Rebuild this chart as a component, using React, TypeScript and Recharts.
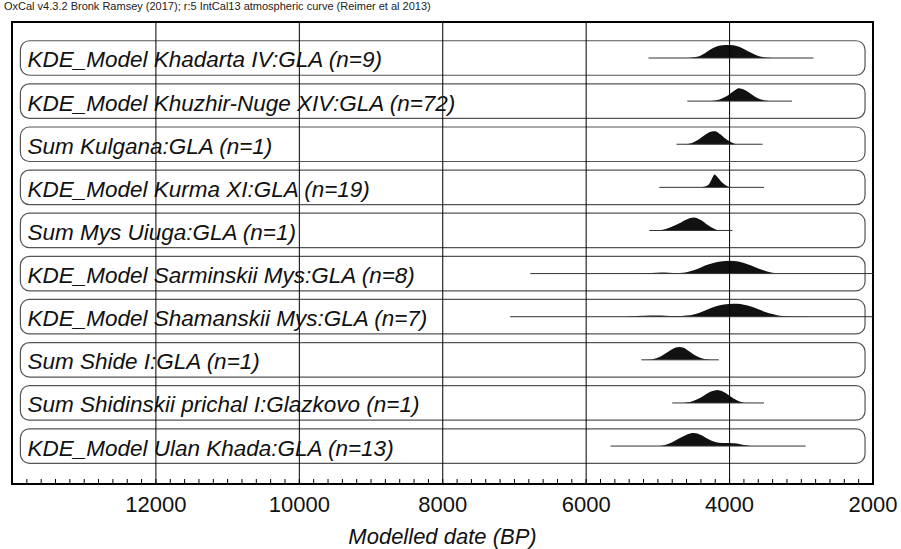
import { ComposedChart, XAxis, YAxis, Area, Line, ReferenceArea, ReferenceLine, Label } from 'recharts';

const FONT = '"Liberation Sans", Arial, Helvetica, sans-serif';

const title = 'OxCal v4.3.2 Bronk Ramsey (2017); r:5 IntCal13 atmospheric curve (Reimer et al 2013)';
const axisTitle = 'Modelled date (BP)';

const rowLabels = [
  'KDE_Model Khadarta IV:GLA (n=9)',
  'KDE_Model Khuzhir-Nuge XIV:GLA (n=72)',
  'Sum Kulgana:GLA (n=1)',
  'KDE_Model Kurma XI:GLA (n=19)',
  'Sum Mys Uiuga:GLA (n=1)',
  'KDE_Model Sarminskii Mys:GLA (n=8)',
  'KDE_Model Shamanskii Mys:GLA (n=7)',
  'Sum Shide I:GLA (n=1)',
  'Sum Shidinskii prichal I:Glazkovo (n=1)',
  'KDE_Model Ulan Khada:GLA (n=13)',
];

// whisker ranges (BP)
const rangeFrom = [5130, 4590, 4740, 4980, 5120, 6780, 7060, 5230, 4800, 5660];
const rangeTo = [2830, 3130, 3540, 3520, 3960, 2000, 1980, 4150, 3520, 2940];

// [date BP, relative probability]
const khadartaIV = [[4600, 0], [4500, 0.05], [4400, 0.2], [4300, 0.55], [4200, 0.85], [4100, 0.98], [4000, 1], [3900, 0.92], [3800, 0.7], [3700, 0.4], [3600, 0.15], [3500, 0.04], [3400, 0]];
const khuzhirNuge = [[4250, 0], [4150, 0.1], [4050, 0.35], [3950, 0.75], [3870, 1], [3800, 0.9], [3700, 0.55], [3600, 0.2], [3500, 0.04], [3450, 0]];
const kulgana = [[4620, 0], [4550, 0.05], [4450, 0.3], [4350, 0.7], [4250, 0.98], [4200, 1], [4150, 0.85], [4050, 0.4], [3950, 0.08], [3900, 0]];
const kurmaXI = [[4420, 0], [4340, 0.07], [4280, 0.3], [4240, 0.75], [4210, 1], [4170, 0.8], [4100, 0.35], [4030, 0.08], [3970, 0]];
const mysUiuga = [[5000, 0], [4900, 0.1], [4800, 0.3], [4700, 0.55], [4600, 0.85], [4500, 1], [4400, 0.8], [4300, 0.4], [4200, 0.1], [4150, 0]];
const sarminskiiMys = [[5300, 0], [5100, 0.05], [4950, 0.09], [4850, 0.07], [4700, 0.05], [4600, 0.1], [4500, 0.25], [4400, 0.48], [4300, 0.7], [4200, 0.86], [4100, 0.96], [4000, 1], [3900, 0.95], [3800, 0.82], [3700, 0.62], [3600, 0.4], [3500, 0.2], [3400, 0.07], [3300, 0]];
const shamanskiiMys = [[5450, 0], [5300, 0.05], [5100, 0.09], [5000, 0.1], [4900, 0.08], [4750, 0.06], [4600, 0.1], [4500, 0.18], [4400, 0.35], [4300, 0.57], [4200, 0.78], [4100, 0.92], [4000, 0.99], [3900, 1], [3800, 0.93], [3700, 0.78], [3600, 0.58], [3500, 0.37], [3400, 0.2], [3300, 0.08], [3200, 0.04], [3000, 0.01], [2900, 0]];
const shideI = [[5150, 0], [5050, 0.08], [4950, 0.3], [4850, 0.65], [4750, 0.95], [4700, 1], [4650, 0.95], [4550, 0.6], [4450, 0.25], [4350, 0.07], [4250, 0]];
const shidinskiiPrichal = [[4650, 0], [4550, 0.07], [4450, 0.28], [4350, 0.6], [4250, 0.9], [4170, 1], [4100, 0.9], [4000, 0.55], [3900, 0.2], [3820, 0.04], [3780, 0]];
const ulanKhada = [[5000, 0], [4900, 0.08], [4800, 0.3], [4700, 0.6], [4600, 0.88], [4500, 1], [4400, 0.85], [4300, 0.55], [4200, 0.32], [4100, 0.24], [4000, 0.24], [3900, 0.2], [3800, 0.08], [3700, 0]];

const densities = [khadartaIV, khuzhirNuge, kulgana, kurmaXI, mysUiuga, sarminskiiMys, shamanskiiMys, shideI, shidinskiiPrichal, ulanKhada];

const majorTicks = [12000, 10000, 8000, 6000, 4000, 2000];
const X_LEFT = 14007;
const X_RIGHT = 2000;
const Y_MIN = -0.88;
const Y_MAX = 9.835;
const PEAK = 0.3;
const BOX_LEFT = 13890;
const BOX_RIGHT = 2111;

const CHART_W = 901;
const CHART_H = 549;
const AXIS_H = 65;
const AXIS_Y = CHART_H - AXIS_H;

const allTicks: number[] = [];
for (let t = 2000; t <= 13800; t += 200) allTicks.push(t);

const rowBase = (i: number) => rowLabels.length - 1 - i;

function DateTick(props: any) {
  const { x, payload } = props;
  const v = payload.value;
  const major = majorTicks.includes(v);
  return (
    <g>
      <line x1={x} x2={x} y1={AXIS_Y} y2={AXIS_Y - 5} stroke="#000" strokeWidth={1} />
      {major && (
        <text x={x} y={AXIS_Y + 28} textAnchor="middle" fontSize={22} fill="#111" fontFamily={FONT}>
          {v}
        </text>
      )}
    </g>
  );
}

export default function App() {
  return (
    <div style={{ position: 'absolute', left: 0, top: 0, width: CHART_W, height: CHART_H, background: '#fff' }}>
      <div style={{ position: 'absolute', left: 4, top: 0, fontSize: 11, fontFamily: FONT, color: '#222', whiteSpace: 'nowrap' }}>
        {title}
      </div>
      <ComposedChart width={CHART_W} height={CHART_H} margin={{ top: 22, right: 28, bottom: 0, left: 12 }}>
        <XAxis
          type="number"
          dataKey="date"
          domain={[X_RIGHT, X_LEFT]}
          reversed
          allowDataOverflow
          ticks={allTicks}
          interval={0}
          tick={<DateTick />}
          tickLine={false}
          tickSize={0}
          tickMargin={0}
          height={AXIS_H}
          axisLine={{ stroke: '#000', strokeWidth: 2 }}
        >
          <Label value={axisTitle} position="insideBottom" offset={5} fontSize={22} fontStyle="italic" fill="#111" fontFamily={FONT} />
        </XAxis>
        <YAxis type="number" domain={[Y_MIN, Y_MAX]} hide allowDataOverflow />

        {rowLabels.map((label, i) => (
          <ReferenceArea
            key={'box' + i}
            x1={BOX_LEFT}
            x2={BOX_RIGHT}
            y1={rowBase(i) - 0.4}
            y2={rowBase(i) + 0.4}
            fill="none"
            fillOpacity={0}
            stroke="#555"
            strokeWidth={1.2}
            radius={9}
            ifOverflow="visible"
          >
            <Label value={label} position="insideLeft" offset={7} dy={1.5} fontSize={22.5} fontStyle="italic" fill="#111" fontFamily={FONT} />
          </ReferenceArea>
        ))}

        {majorTicks.slice(0, 5).map((t) => (
          <ReferenceLine key={'g' + t} x={t} stroke="#000" strokeWidth={1} />
        ))}

        <ReferenceArea x1={X_LEFT} x2={X_RIGHT} y1={Y_MIN} y2={Y_MAX} fill="none" fillOpacity={0} stroke="#000" strokeWidth={2} ifOverflow="visible" />

        {rowLabels.map((_, i) => (
          <Line
            key={'r' + i}
            data={[
              { date: rangeFrom[i], y: rowBase(i) },
              { date: rangeTo[i], y: rowBase(i) },
            ]}
            dataKey="y"
            stroke="#333"
            strokeWidth={1}
            dot={false}
            activeDot={false}
            isAnimationActive={false}
          />
        ))}

        {densities.map((pts, i) => (
          <Area
            key={'d' + i}
            data={pts.map(([date, p]) => ({ date, band: [rowBase(i), rowBase(i) + p * PEAK] }))}
            dataKey="band"
            type="monotone"
            stroke="none"
            fill="#111"
            fillOpacity={1}
            activeDot={false}
            isAnimationActive={false}
          />
        ))}
      </ComposedChart>
    </div>
  );
}
